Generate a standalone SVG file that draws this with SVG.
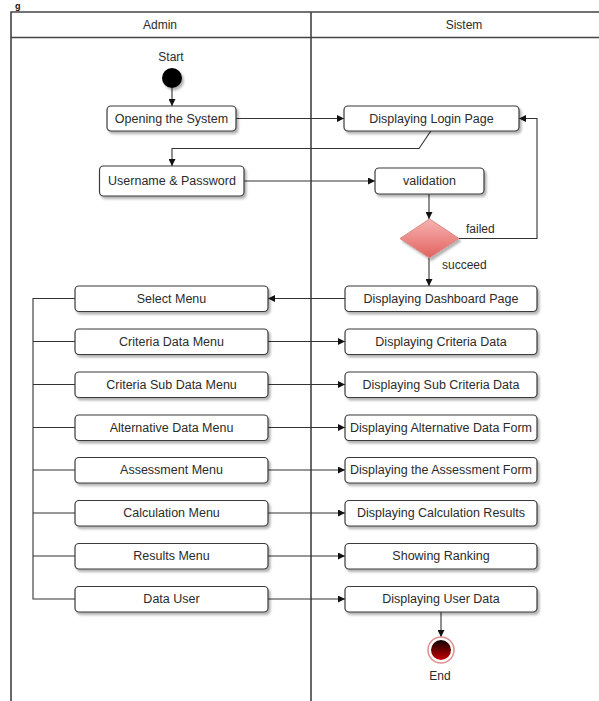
<svg xmlns="http://www.w3.org/2000/svg" width="599" height="701" viewBox="0 0 599 701">
  <defs>
    <style>
      text { font-family: "Liberation Sans", Arial, sans-serif; fill: #2b2b2b; }
      .lbl { font-size: 12.5px; text-anchor: middle; dominant-baseline: central; }
      .hdr { font-size: 12px; text-anchor: middle; dominant-baseline: central; }
      .note { font-size: 12px; }
      .lane { fill: none; stroke: #444; stroke-width: 1.6; }
      .act { fill: #fff; stroke: #3a3a3a; stroke-width: 1.2; filter: url(#shadow); }
      .edge { fill: none; stroke: #333; stroke-width: 1.1; }
      .arr { marker-end: url(#head); }
    </style>
    <filter id="shadow" x="-10%" y="-20%" width="125%" height="150%">
      <feDropShadow dx="2" dy="2.5" stdDeviation="1" flood-color="#000" flood-opacity="0.3"/>
    </filter>
    <marker id="head" viewBox="0 0 10 10" refX="10" refY="5" markerWidth="7" markerHeight="7" markerUnits="userSpaceOnUse" orient="auto">
      <path d="M0,0 L10,5 L0,10 Z" fill="#111"/>
    </marker>
    <linearGradient id="decisionFill" x1="0" y1="0" x2="0" y2="1">
      <stop offset="0" stop-color="#f6b3b1"/>
      <stop offset="1" stop-color="#e2625f"/>
    </linearGradient>
    <linearGradient id="endFill" x1="0" y1="0" x2="0" y2="1">
      <stop offset="0" stop-color="#100000"/>
      <stop offset="1" stop-color="#c80000"/>
    </linearGradient>
  </defs>

  <!-- caption fragment above the frame -->
  <text x="15" y="8.5" style="font-size:9px;font-weight:bold;fill:#111">g</text>

  <!-- swimlanes -->
  <g id="lanes">
    <path class="lane" d="M11,701 V12 H599 M11,37.5 H599 M311,12 V701"/>
    <text class="hdr" x="160" y="25">Admin</text>
    <text class="hdr" x="464" y="25">Sistem</text>
  </g>

  <!-- connectors -->
  <g id="connectors">
    <path class="edge arr" d="M172,88 V106"/>
    <path class="edge arr" d="M236,118.5 H344"/>
    <path class="edge arr" d="M431.5,130 L419,148.5 H172 V166"/>
    <path class="edge arr" d="M244,181 H375"/>
    <path class="edge arr" d="M429,194 V219"/>
    <path class="edge arr" d="M459,238.5 H537 V118.5 H519"/>
    <path class="edge arr" d="M429,258 V286"/>
    <path class="edge arr" d="M345,298.5 H268"/>
    <path class="edge arr" d="M268,341.5 H345"/>
    <path class="edge arr" d="M268,384.5 H345"/>
    <path class="edge arr" d="M268,427.5 H345"/>
    <path class="edge arr" d="M268,470 H345"/>
    <path class="edge arr" d="M268,513 H345"/>
    <path class="edge arr" d="M268,556 H345"/>
    <path class="edge arr" d="M268,599 H345"/>
    <path class="edge" d="M75,298.5 H33 V599 H75 M33,341.5 H75 M33,384.5 H75 M33,427.5 H75 M33,470 H75 M33,513 H75 M33,556 H75"/>
    <path class="edge arr" d="M441,612 V637"/>
    <text class="note" x="466" y="233">failed</text>
    <text class="note" x="442" y="269">succeed</text>
  </g>

  <!-- start -->
  <g id="start">
    <text class="hdr" x="171" y="57">Start</text>
    <circle cx="172" cy="78" r="10" fill="#000" filter="url(#shadow)"/>
  </g>

  <!-- Admin lane activities -->
  <g id="opening">
    <rect class="act" x="107" y="106" width="129" height="25" rx="4"/>
    <text class="lbl" x="171.5" y="118.5">Opening the System</text>
  </g>
  <g id="credentials">
    <rect class="act" x="99.5" y="166" width="144.5" height="30" rx="4"/>
    <text class="lbl" x="172" y="181">Username &amp; Password</text>
  </g>
  <g id="select-menu">
    <rect class="act" x="75" y="286" width="193" height="25.5" rx="4"/>
    <text class="lbl" x="171.5" y="298.5">Select Menu</text>
  </g>
  <g id="criteria-menu">
    <rect class="act" x="75" y="329" width="193" height="25.5" rx="4"/>
    <text class="lbl" x="171.5" y="341.5">Criteria Data Menu</text>
  </g>
  <g id="sub-criteria-menu">
    <rect class="act" x="75" y="372" width="193" height="25.5" rx="4"/>
    <text class="lbl" x="171.5" y="384.5">Criteria Sub Data Menu</text>
  </g>
  <g id="alternative-menu">
    <rect class="act" x="75" y="415" width="193" height="25.5" rx="4"/>
    <text class="lbl" x="171.5" y="427.5">Alternative Data Menu</text>
  </g>
  <g id="assessment-menu">
    <rect class="act" x="75" y="457.5" width="193" height="25.5" rx="4"/>
    <text class="lbl" x="171.5" y="470">Assessment Menu</text>
  </g>
  <g id="calculation-menu">
    <rect class="act" x="75" y="500.5" width="193" height="25.5" rx="4"/>
    <text class="lbl" x="171.5" y="513">Calculation Menu</text>
  </g>
  <g id="results-menu">
    <rect class="act" x="75" y="543.5" width="193" height="25.5" rx="4"/>
    <text class="lbl" x="171.5" y="556">Results Menu</text>
  </g>
  <g id="data-user">
    <rect class="act" x="75" y="586.5" width="193" height="25.5" rx="4"/>
    <text class="lbl" x="171.5" y="599">Data User</text>
  </g>

  <!-- Sistem lane activities -->
  <g id="login-page">
    <rect class="act" x="344" y="106" width="175" height="25" rx="4"/>
    <text class="lbl" x="431.5" y="118.5">Displaying Login Page</text>
  </g>
  <g id="validation">
    <rect class="act" x="375" y="168" width="109" height="26" rx="4"/>
    <text class="lbl" x="429.5" y="181">validation</text>
  </g>
  <g id="decision">
    <path d="M429.5,219 L459,238.5 L429.5,258 L400,238.5 Z" fill="url(#decisionFill)" stroke="#d98b88" stroke-width="1" stroke-linejoin="round" filter="url(#shadow)"/>
  </g>
  <g id="dashboard">
    <rect class="act" x="345" y="286" width="192" height="25.5" rx="4"/>
    <text class="lbl" x="441" y="298.5">Displaying Dashboard Page</text>
  </g>
  <g id="criteria-data">
    <rect class="act" x="345" y="329" width="192" height="25.5" rx="4"/>
    <text class="lbl" x="441" y="341.5">Displaying Criteria Data</text>
  </g>
  <g id="sub-criteria-data">
    <rect class="act" x="345" y="372" width="192" height="25.5" rx="4"/>
    <text class="lbl" x="441" y="384.5">Displaying Sub Criteria Data</text>
  </g>
  <g id="alternative-form">
    <rect class="act" x="345" y="415" width="192" height="25.5" rx="4"/>
    <text class="lbl" x="441" y="427.5">Displaying Alternative Data Form</text>
  </g>
  <g id="assessment-form">
    <rect class="act" x="345" y="457.5" width="192" height="25.5" rx="4"/>
    <text class="lbl" x="441" y="470">Displaying the Assessment Form</text>
  </g>
  <g id="calculation-results">
    <rect class="act" x="345" y="500.5" width="192" height="25.5" rx="4"/>
    <text class="lbl" x="441" y="513">Displaying Calculation Results</text>
  </g>
  <g id="ranking">
    <rect class="act" x="345" y="543.5" width="192" height="25.5" rx="4"/>
    <text class="lbl" x="441" y="556">Showing Ranking</text>
  </g>
  <g id="user-data">
    <rect class="act" x="345" y="586.5" width="192" height="25.5" rx="4"/>
    <text class="lbl" x="441" y="599">Displaying User Data</text>
  </g>

  <!-- end -->
  <g id="end">
    <circle cx="441" cy="650" r="13" fill="#fff" stroke="#e09090" stroke-width="1.5"/>
    <circle cx="441" cy="650" r="10" fill="url(#endFill)"/>
    <text class="hdr" x="440" y="676">End</text>
  </g>
</svg>
